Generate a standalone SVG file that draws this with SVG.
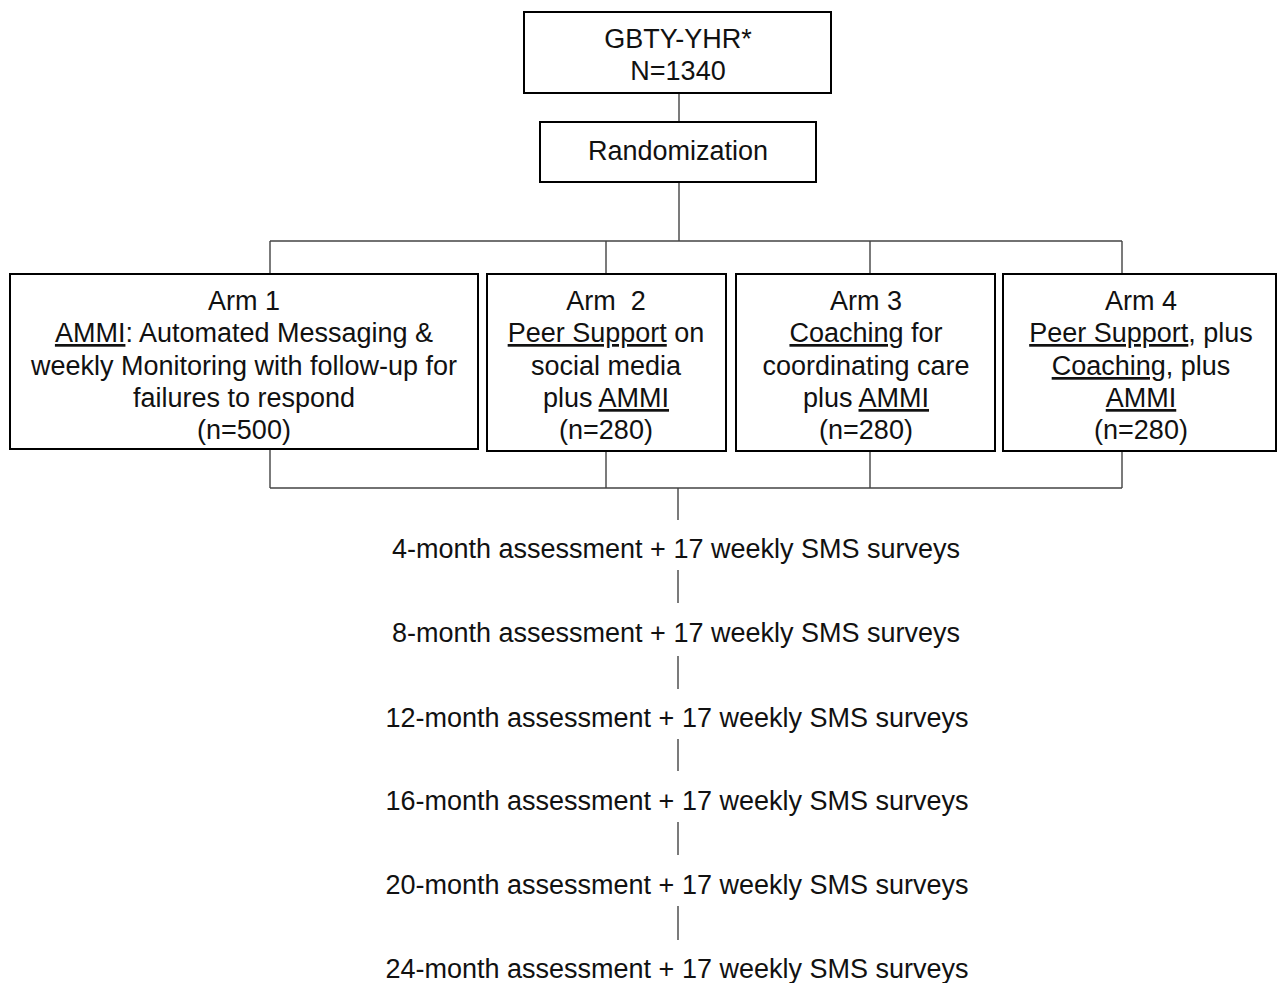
<svg xmlns="http://www.w3.org/2000/svg" width="1277" height="983" viewBox="0 0 1277 983">
<style>
.box{fill:#fff;stroke:#000;stroke-width:2}
.t{font-family:"Liberation Sans",Arial,sans-serif;font-size:27px;fill:#111;text-anchor:middle}
.u{text-decoration:underline}
.c{fill:none;stroke:#444;stroke-width:1.4}
</style>
<rect width="1277" height="983" fill="#fff"/>
<g id="connectors">
<path class="c" d="M679 93V122M679 182V241M270 241H1122M270 241V274M606 241V274M870 241V274M1122 241V274"/>
<path class="c" d="M270 450V488M606 452V488M870 452V488M1122 452V488M270 488H1122M678 488V520"/>
<path class="c" d="M678 570V603M678 656V689M678 739V771M678 822V855M678 906V940"/>
</g>
<g id="n-gbty">
<rect class="box" x="524" y="12" width="307" height="81"/>
<text class="t" x="678" y="48">GBTY-YHR*</text>
<text class="t" x="678" y="80">N=1340</text>
</g>
<g id="n-random">
<rect class="box" x="540" y="122" width="276" height="60"/>
<text class="t" x="678" y="160">Randomization</text>
</g>
<g id="n-arm1">
<rect class="box" x="10" y="274" width="468" height="175"/>
<text class="t" x="244" y="310">Arm 1</text>
<text class="t" x="244" y="342"><tspan class="u">AMMI</tspan>: Automated Messaging &amp;</text>
<text class="t" x="244" y="375">weekly Monitoring with follow-up for</text>
<text class="t" x="244" y="407">failures to respond</text>
<text class="t" x="244" y="439">(n=500)</text>
</g>
<g id="n-arm2">
<rect class="box" x="487" y="274" width="239" height="177"/>
<text class="t" x="606" y="310">Arm&#160; 2</text>
<text class="t" x="606" y="342"><tspan class="u">Peer Support</tspan> on</text>
<text class="t" x="606" y="375">social media</text>
<text class="t" x="606" y="407">plus <tspan class="u">AMMI</tspan></text>
<text class="t" x="606" y="439">(n=280)</text>
</g>
<g id="n-arm3">
<rect class="box" x="736" y="274" width="259" height="177"/>
<text class="t" x="866" y="310">Arm 3</text>
<text class="t" x="866" y="342"><tspan class="u">Coaching</tspan> for</text>
<text class="t" x="866" y="375">coordinating care</text>
<text class="t" x="866" y="407">plus <tspan class="u">AMMI</tspan></text>
<text class="t" x="866" y="439">(n=280)</text>
</g>
<g id="n-arm4">
<rect class="box" x="1003" y="274" width="273" height="177"/>
<text class="t" x="1141" y="310">Arm 4</text>
<text class="t" x="1141" y="342"><tspan class="u">Peer Support</tspan>, plus</text>
<text class="t" x="1141" y="375"><tspan class="u">Coaching</tspan>, plus</text>
<text class="t" x="1141" y="407"><tspan class="u">AMMI</tspan></text>
<text class="t" x="1141" y="439">(n=280)</text>
</g>
<g id="n-m4"><text class="t" x="676" y="558">4-month assessment + 17 weekly SMS surveys</text></g>
<g id="n-m8"><text class="t" x="676" y="642">8-month assessment + 17 weekly SMS surveys</text></g>
<g id="n-m12"><text class="t" x="677" y="727">12-month assessment + 17 weekly SMS surveys</text></g>
<g id="n-m16"><text class="t" x="677" y="810">16-month assessment + 17 weekly SMS surveys</text></g>
<g id="n-m20"><text class="t" x="677" y="894">20-month assessment + 17 weekly SMS surveys</text></g>
<g id="n-m24"><text class="t" x="677" y="978">24-month assessment + 17 weekly SMS surveys</text></g>
</svg>
